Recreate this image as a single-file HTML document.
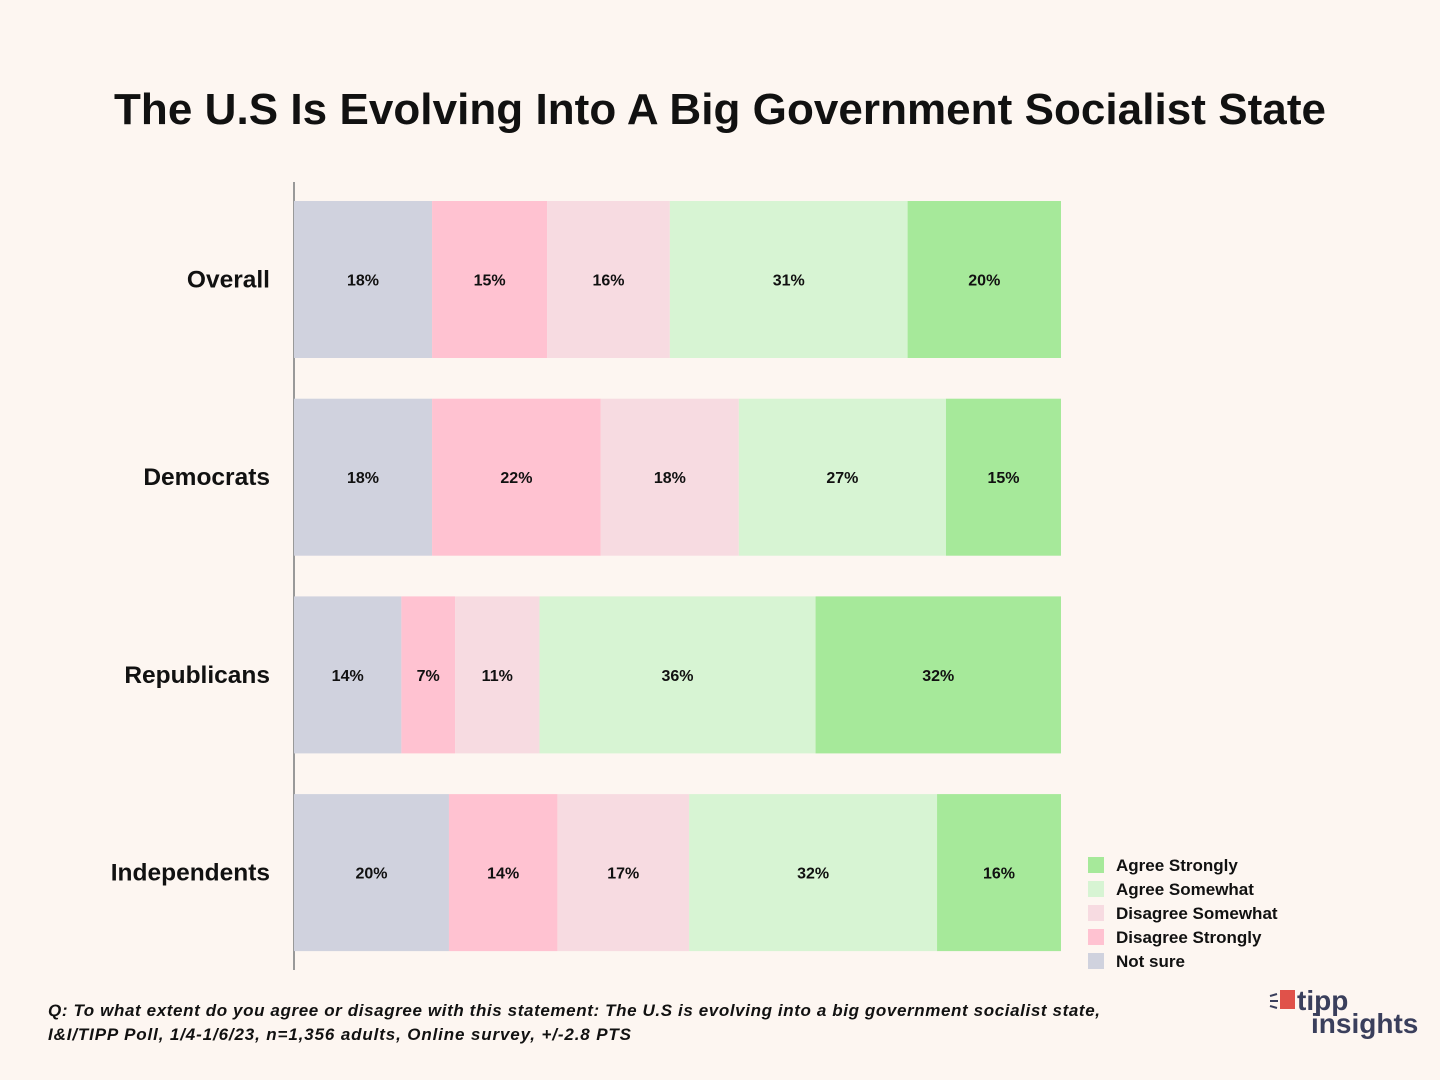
<!DOCTYPE html>
<html><head><meta charset="utf-8"><style>
body{margin:0;background:#fdf6f1;font-family:"Liberation Sans",sans-serif;}
svg{display:block}
</style></head><body>
<svg width="1440" height="1080" id="c">
<rect width="1440" height="1080" fill="#fdf6f1"/>
<text x="720" y="124" text-anchor="middle" font-size="44" font-weight="bold" fill="#111" textLength="1212">The U.S Is Evolving Into A Big Government Socialist State</text>
<line x1="294" y1="182" x2="294" y2="970" stroke="#999" stroke-width="2"/>
<g id="bars"></g>
<g id="legend"></g>
<text x="48" y="1016" font-size="17" font-style="italic" font-weight="bold" fill="#111" textLength="1052">Q: To what extent do you agree or disagree with this statement: The U.S is evolving into a big government socialist state,</text>
<text x="48" y="1040" font-size="17" font-style="italic" font-weight="bold" fill="#111" textLength="583">I&amp;I/TIPP Poll, 1/4-1/6/23, n=1,356 adults, Online survey, +/-2.8 PTS</text>
<g>
<rect x="1280" y="990" width="15" height="19" fill="#e0524a"/>
<line x1="1270" y1="996" x2="1277" y2="994" stroke="#3a3f5c" stroke-width="2"/>
<line x1="1270" y1="1001" x2="1278" y2="1001" stroke="#3a3f5c" stroke-width="2"/>
<line x1="1270" y1="1006" x2="1277" y2="1008" stroke="#3a3f5c" stroke-width="2"/>
<text x="1297" y="1010" font-size="28" font-weight="bold" fill="#3a3f5c">tipp</text>
<text x="1311" y="1033" font-size="28" font-weight="bold" fill="#3a3f5c">insights</text>
</g>
</svg>
<script>
const groups=["Overall","Democrats","Republicans","Independents"];
const notSure=[18,18,14,20];
const disStrong=[15,22,7,14];
const disSome=[16,18,11,17];
const agrSome=[31,27,36,32];
const agrStrong=[20,15,32,16];
const seriesNames=["Not sure","Disagree Strongly","Disagree Somewhat","Agree Somewhat","Agree Strongly"];
const series=[notSure,disStrong,disSome,agrSome,agrStrong];
const colors=["#d0d2de","#ffc2d1","#f7dbe1","#d7f4d3","#a6e99a"];
const NS="http://www.w3.org/2000/svg";
const x0=294,x1=1061,y0=201,pitch=197.7,bh=157;
function xs(v,total){return (x1-x0)*v/total;}
function yb(i){return y0+i*pitch;}
const g=document.getElementById('bars');
groups.forEach((name,i)=>{
  const t=document.createElementNS(NS,'text');
  t.setAttribute('x',270);t.setAttribute('y',yb(i)+bh/2+8);
  t.setAttribute('text-anchor','end');t.setAttribute('font-size','24.5');t.setAttribute('font-weight','bold');t.setAttribute('fill','#111');
  t.textContent=name;
  
  
  g.appendChild(t);
  const total=series.reduce((s,a)=>s+a[i],0);
  let x=x0;
  series.forEach((arr,k)=>{
    const w=xs(arr[i],total);
    const r=document.createElementNS(NS,'rect');
    r.setAttribute('x',x);r.setAttribute('y',yb(i));r.setAttribute('width',w);r.setAttribute('height',bh);r.setAttribute('fill',colors[k]);
    
    
    g.appendChild(r);
    const l=document.createElementNS(NS,'text');
    l.setAttribute('x',x+w/2);l.setAttribute('y',yb(i)+bh/2+6);l.setAttribute('text-anchor','middle');
    l.setAttribute('font-size','16');l.setAttribute('font-weight','bold');l.setAttribute('fill','#111');
    l.textContent=arr[i]+'%';
    
    
    g.appendChild(l);
    x+=w;
  });
});
const lg=document.getElementById('legend');
for(let k=4;k>=0;k--){
  const j=4-k;
  const r=document.createElementNS(NS,'rect');
  r.setAttribute('x',1088);r.setAttribute('y',857+j*24);r.setAttribute('width',16);r.setAttribute('height',16);r.setAttribute('fill',colors[k]);
  
  
  lg.appendChild(r);
  const t=document.createElementNS(NS,'text');
  t.setAttribute('x',1116);t.setAttribute('y',871+j*24);t.setAttribute('font-size','17');t.setAttribute('font-weight','bold');t.setAttribute('fill','#111');
  t.textContent=seriesNames[k];
  
  
  lg.appendChild(t);
}
</script>
</body></html>
